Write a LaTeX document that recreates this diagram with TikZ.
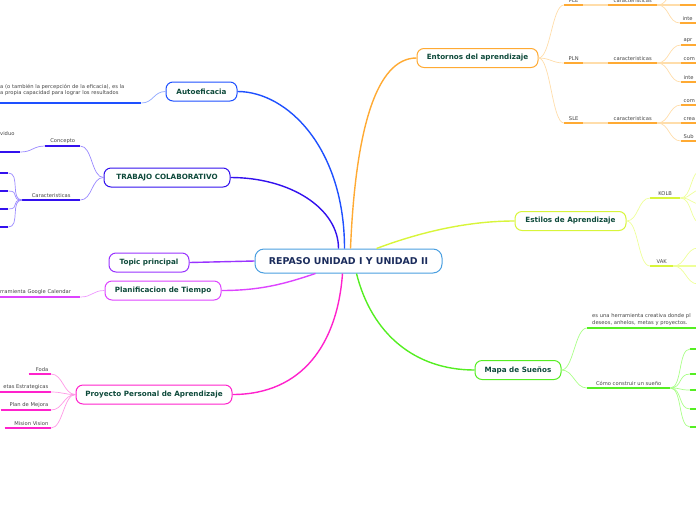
\documentclass[tikz,border=0pt]{standalone}
\usepackage{fontspec}
\setmainfont{DejaVu Sans}
\usepackage{tikz}
\usetikzlibrary{positioning}
\definecolor{mainB}{HTML}{4A9FE0}
\definecolor{maintext}{HTML}{1B2C5C}
\definecolor{ideatext}{HTML}{0E4A3B}
\definecolor{leaftext}{HTML}{444444}
\definecolor{autoB}{HTML}{1E50FF}
\definecolor{autoL}{HTML}{8FA8FF}
\definecolor{trabB}{HTML}{3311EE}
\definecolor{trabL}{HTML}{9988FF}
\definecolor{topicB}{HTML}{9933FF}
\definecolor{planB}{HTML}{DD44FF}
\definecolor{planL}{HTML}{EE99FF}
\definecolor{proyB}{HTML}{FF22CC}
\definecolor{proyL}{HTML}{FF99E6}
\definecolor{entB}{HTML}{FFAA33}
\definecolor{entL}{HTML}{FFDDAA}
\definecolor{estB}{HTML}{D8F53A}
\definecolor{estL}{HTML}{EEFF99}
\definecolor{mapaB}{HTML}{55EE22}
\definecolor{mapaL}{HTML}{AAFF88}
\def\twigd{12}
% underline below a leaf node
\newcommand{\leafline}[2]{%
\draw[#2, line width=1.6pt] (#1.south west) -- (#1.south east);
}
% thin curve, always drawn left to right
\newcommand{\twig}[3]{%
\draw[#3, line width=0.7pt] (#1) .. controls +(\twigd,0) and +(-\twigd,0) .. (#2);
}

\begin{document}
\begin{tikzpicture}[
    x=1pt, y=-1pt,
    idea/.style={draw, fill=white, rounded corners=7pt, line width=1pt,
        minimum height=19pt, inner sep=0pt, text=ideatext,
        font=\fontsize{7.2}{8}\selectfont\bfseries},
    leaf/.style={inner xsep=2.5pt, inner ysep=2.5pt, text=leaftext,
        font=\fontsize{5.2}{6.5}\selectfont},
    rleaf/.style={leaf, anchor=south west, text width=30pt, align=left},
    branch/.style={line width=1.4pt},
    stem/.style={line width=1.8pt}
]
\useasboundingbox (0,0) rectangle (696,520);
\clip (0,0) rectangle (696,520);

\node[idea, draw=mainB, text=maintext, minimum width=187pt, minimum height=24pt,
    rounded corners=9pt, font=\fontsize{9.4}{10}\selectfont\bfseries] (main) at (348.5,261) {REPASO UNIDAD I Y UNIDAD II};

% left side
\node[idea, draw=autoB, minimum width=71pt] (autoef) at (201.5,91.5) {Autoeficacia};
\node[idea, draw=trabB, minimum width=126pt] (trab) at (167,177.5) {TRABAJO COLABORATIVO};
\node[idea, draw=topicB, minimum width=80pt] (tpc) at (149,262.5) {Topic principal};
\node[idea, draw=planB, minimum width=116pt] (plan) at (163,290.5) {Planificacion de Tiempo};
\node[idea, draw=proyB, minimum width=156pt] (proy) at (154,394.5) {Proyecto Personal de Aprendizaje};

% right side
\node[idea, draw=entB, minimum width=121pt] (ent) at (477.5,58) {Entornos del aprendizaje};
\node[idea, draw=estB, minimum width=111pt] (est) at (570.5,221) {Estilos de Aprendizaje};
\node[idea, draw=mapaB, minimum width=86pt] (mapa) at (518,370) {Mapa de Sueños};

\draw[branch, autoB] ([xshift=-4pt]main.north) .. controls +(0,-100) and +(50,0) .. (autoef.east);
\draw[branch, trabB] ([xshift=-10pt]main.north) .. controls +(0,-40) and +(60,0) .. (trab.east);
\draw[branch, topicB] (main.west) -- (tpc.east);
\draw[branch, planB] ([xshift=-33pt]main.south) .. controls +(-30,10) and +(40,0) .. (plan.east);
\draw[branch, proyB] ([xshift=-6pt]main.south) .. controls +(-5,70) and +(70,0) .. (proy.east);
\draw[branch, entB] ([xshift=2pt]main.north) .. controls +(5,-120) and +(-40,0) .. (ent.west);
\draw[branch, estB] ([xshift=28pt]main.north) .. controls +(40,-15) and +(-50,0) .. (est.west);
\draw[branch, mapaB] ([xshift=8pt]main.south) .. controls +(15,60) and +(-60,0) .. (mapa.west);

% Autoeficacia
\node[leaf, anchor=south west, inner xsep=0pt, inner ysep=7pt, text width=141pt, align=left] (autotxt) at (0,103)
    {a (o también la percepción de la eficacia), es la\\a propia capacidad para lograr los resultados};
\leafline{autotxt}{autoB}
\twig{autotxt.south east}{autoef.west}{autoL}

% Trabajo colaborativo
\node[leaf, anchor=south west, minimum width=35pt] (conc) at (45,146) {Concepto};
\node[leaf, anchor=south west, inner xsep=0pt, inner ysep=16pt, text width=20pt, align=left] (vid) at (0,152) {viduo};
\node[leaf, anchor=south west, minimum width=58pt] (carac) at (22,200) {Caracteristicas};
\foreach \n/\y in {1/173, 2/191, 3/209, 4/227}{
    \node[leaf, anchor=south west, minimum width=8pt, inner xsep=0pt] (tc\n) at (0,\y) {};
}
\foreach \n in {conc, vid, carac, tc1, tc2, tc3, tc4}{
    \leafline{\n}{trabB}
}
\twig{conc.south east}{trab.west}{trabL}
\twig{carac.south east}{trab.west}{trabL}
\twig{vid.south east}{conc.south west}{trabL}
\foreach \n in {1,...,4}{
    \twig{tc\n.south east}{carac.south west}{trabL}
}

% Planificacion
\node[leaf, anchor=south west, inner xsep=0pt, text width=80pt, align=left] (gcal) at (0,297) {rramienta Google Calendar};
\leafline{gcal}{planB}
\twig{gcal.south east}{plan.west}{planL}

% Proyecto personal
\node[leaf, anchor=south east, text width=17pt, align=right] (foda) at (51,374) {Foda};
\node[leaf, anchor=south east, text width=46pt, align=right] (metas) at (51,392) {etas Estrategicas};
\node[leaf, anchor=south east, text width=45pt, align=right] (mejora) at (51,410) {Plan de Mejora};
\node[leaf, anchor=south east, text width=41pt, align=right] (mision) at (51,428) {Mision Vision};
\foreach \n in {foda, metas, mejora, mision}{
    \leafline{\n}{proyB}
    \twig{\n.south east}{proy.west}{proyL}
}

% Entornos del aprendizaje
\node[leaf, anchor=south west, minimum width=19pt] (ple) at (564,5) {PLE};
\node[leaf, anchor=south west, minimum width=49pt] (plecar) at (608,5) {caracteristicas};
\node[rleaf] (ple1) at (680,-13) {};
\node[rleaf] (ple2) at (680,5) {};
\node[rleaf] (ple3) at (680,23) {inte};
\node[leaf, anchor=south west, minimum width=19pt] (pln) at (564,63) {PLN};
\node[leaf, anchor=south west, minimum width=49pt] (plncar) at (608,63) {caracteristicas};
\node[rleaf] (pln1) at (681,45) {apr};
\node[rleaf] (pln2) at (681,63) {com};
\node[rleaf] (pln3) at (681,82) {inte};
\node[leaf, anchor=south west, minimum width=19pt] (sle) at (564,123) {SLE};
\node[leaf, anchor=south west, minimum width=49pt] (slecar) at (608,123) {caracteristicas};
\node[rleaf] (sle1) at (681,105) {com};
\node[rleaf] (sle2) at (681,123) {crea};
\node[rleaf] (sle3) at (681,141) {Sub};
\foreach \n in {ple, plecar, ple1, ple2, ple3, pln, plncar, pln1, pln2, pln3, sle, slecar, sle1, sle2, sle3}{
    \leafline{\n}{entB}
}
\twig{ent.east}{ple.south west}{entL}
\twig{ent.east}{pln.south west}{entL}
\twig{ent.east}{sle.south west}{entL}
\foreach \p in {ple, pln, sle}{
    \draw[stem, entL] (\p.south east) -- (\p car.south west);
    \twig{\p car.south east}{\p1.south west}{entL}
    \draw[stem, entL] (\p car.south east) -- (\p2.south west);
    \twig{\p car.south east}{\p3.south west}{entL}
}

% Estilos de aprendizaje
\node[leaf, anchor=south west, minimum width=30pt] (kolb) at (650,198) {KOLB};
\node[leaf, anchor=south west, minimum width=23pt] (vak) at (650,266) {VAK};
\leafline{kolb}{estB}
\leafline{vak}{estB}
\foreach \n/\y in {1/170, 2/190, 3/204, 4/224}{
    \coordinate (k\n) at (702,\y);
}
\foreach \n/\y in {1/248, 2/266, 3/284}{
    \coordinate (v\n) at (698,\y);
}
\twig{est.east}{kolb.south west}{estL}
\twig{est.east}{vak.south west}{estL}
\foreach \n in {1,...,4}{
    \twig{kolb.south east}{k\n}{estL}
}
\twig{vak.south east}{v1}{estL}
\draw[stem, estL] (vak.south east) -- (v2);
\twig{vak.south east}{v3}{estL}

% Mapa de suenos
\node[leaf, anchor=south west, inner xsep=5pt, text width=125pt, align=left] (suen1) at (587,328)
    {es una herramienta creativa donde pl\\deseos, anhelos, metas y proyectos.};
\node[leaf, anchor=south west, minimum width=83pt] (suen2) at (587,388) {Cómo construir un sueño};
\foreach \n/\y in {1/349, 2/374, 3/390, 4/409, 5/427}{
    \node[leaf, anchor=south west, minimum width=20pt, inner xsep=0pt] (ms\n) at (690,\y) {};
}
\foreach \n in {suen1, suen2, ms1, ms2, ms3, ms4, ms5}{
    \leafline{\n}{mapaB}
}
\twig{mapa.east}{suen1.south west}{mapaL}
\twig{mapa.east}{suen2.south west}{mapaL}
\foreach \n in {1,...,5}{
    \twig{suen2.south east}{ms\n.south west}{mapaL}
}
\end{tikzpicture}
\end{document}
